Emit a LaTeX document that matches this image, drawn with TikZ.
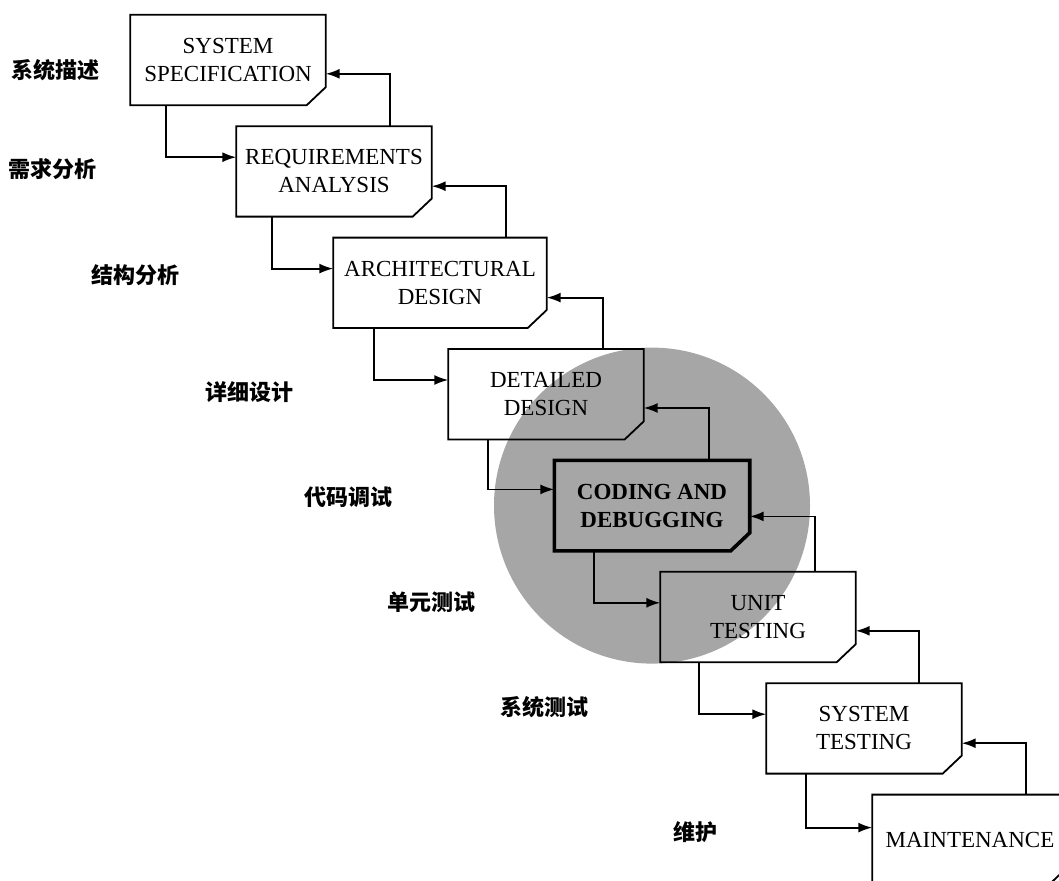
\documentclass[tikz,border=0pt]{standalone}
\usepackage{fontspec}
\setmainfont{Liberation Serif}
\newfontfamily\cjk{Noto Sans CJK SC}
\usetikzlibrary{arrows.meta, positioning, backgrounds}

\begin{document}
\begin{tikzpicture}[
    x=1pt, y=1pt,
    node distance=21pt,
    stage/.style={
        rectangle,
        minimum width=195pt,
        minimum height=90pt,
        inner sep=1pt,
        align=center,
        font=\fontsize{23}{28}\selectfont
    },
    stage_edge/.style={
        line width=1.8pt,
        line join=miter
    },
    down_arrow/.style={
        -{Latex[length=14pt,width=10pt]},
        line width=1.8pt
    },
    back_arrow/.style={
        -{Latex[length=14pt,width=10pt]},
        line width=1.8pt
    },
    phase/.style={
        font=\cjk\bfseries\fontsize{22}{22}\selectfont
    }
]

\useasboundingbox (0,0) rectangle (1059,-880);

% Stages
\node[stage] (spec) at (228,-60) {SYSTEM\\SPECIFICATION};
\node[stage, below=of spec, xshift=106pt] (req) {REQUIREMENTS\\ANALYSIS};
\node[stage, below=of req, xshift=106pt, minimum width=213pt] (arch) {ARCHITECTURAL\\DESIGN};
\node[stage, below=of arch, xshift=106pt] (detail) {DETAILED\\DESIGN};
\node[stage, below=of detail, xshift=106pt, font=\fontsize{23}{28}\selectfont\bfseries] (coding) {CODING AND\\DEBUGGING};
\node[stage, below=of coding, xshift=106pt] (unit) {UNIT\\TESTING};
\node[stage, below=of unit, xshift=106pt] (systest) {SYSTEM\\TESTING};
\node[stage, below=of systest, xshift=106pt] (maint) {MAINTENANCE};

% Outlines with the cut corner
\foreach \s/\w in {spec/1.8pt, req/1.8pt, arch/1.8pt, detail/1.8pt, coding/3.6pt, unit/1.8pt, systest/1.8pt, maint/1.8pt}
  \draw[stage_edge, line width=\w] (\s.north west) -- (\s.north east) -- ([yshift=18pt]\s.south east)
    -- ([xshift=-19pt]\s.south east) -- (\s.south west) -- cycle;

% Gray disc behind the coding phase
\begin{scope}[on background layer]
\fill[black!35] (coding.center) circle (158pt);
\end{scope}

% Phase labels
\node[phase, left=27pt of spec.west, yshift=-10pt] (lspec) {系统描述};
\node[phase, left=136pt of req.west, yshift=2pt] (lreq) {需求分析};
\node[phase, left=150pt of arch.west, yshift=8pt] (larch) {结构分析};
\node[phase, left=151pt of detail.west, yshift=2pt] (ldetail) {详细设计};
\node[phase, left=158pt of coding.west, yshift=8pt] (lcoding) {代码调试};
\node[phase, left=181pt of unit.west, yshift=15pt] (lunit) {单元测试};
\node[phase, left=174pt of systest.west, yshift=21pt] (lsystest) {系统测试};
\node[phase, left=151pt of maint.west, yshift=8pt] (lmaint) {维护};

% Downward arrows
\draw[down_arrow] ([xshift=36pt]spec.south west) |- ([yshift=-31pt]req.north west);
\draw[down_arrow] ([xshift=36pt]req.south west) |- ([yshift=-31pt]arch.north west);
\draw[down_arrow] ([xshift=41pt]arch.south west) |- ([yshift=-31pt]detail.north west);
\draw[down_arrow] ([xshift=40pt]detail.south west) |- ([yshift=-29pt]coding.north west);
\draw[down_arrow] ([xshift=40pt]coding.south west) |- ([yshift=-31pt]unit.north west);
\draw[down_arrow] ([xshift=39pt]unit.south west) |- ([yshift=-31pt]systest.north west);
\draw[down_arrow] ([xshift=40pt]systest.south west) |- ([yshift=-33pt]maint.north west);

% Feedback arrows
\draw[back_arrow] ([xshift=-42pt]req.north east) |- ([yshift=-59pt]spec.north east);
\draw[back_arrow] ([xshift=-41pt]arch.north east) |- ([yshift=-60pt]req.north east);
\draw[back_arrow] ([xshift=-41pt]detail.north east) |- ([yshift=-60pt]arch.north east);
\draw[back_arrow] ([xshift=-41pt]coding.north east) |- ([yshift=-59pt]detail.north east);
\draw[back_arrow] ([xshift=-41pt]unit.north east) |- ([yshift=-56pt]coding.north east);
\draw[back_arrow] ([xshift=-43pt]systest.north east) |- ([yshift=-59pt]unit.north east);
\draw[back_arrow] ([xshift=-42pt]maint.north east) |- ([yshift=-60pt]systest.north east);

\end{tikzpicture}
\end{document}
